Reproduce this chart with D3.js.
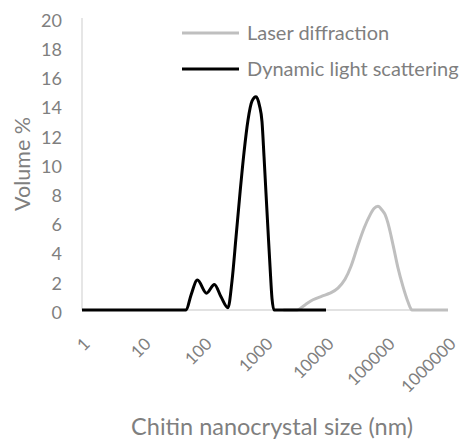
<!DOCTYPE html>
<html>
<head>
<meta charset="utf-8">
<script src="https://cdn.jsdelivr.net/npm/d3@7"></script>
<style>
  body { margin: 0; background: #fff; }
  text { font-family: "Lato", "Open Sans", sans-serif; fill: #7f7f7f; }
</style>
</head>
<body>
<div id="chart"></div>
<script>
// tick labels
const xTicks = [1, 10, 100, 1000, 10000, 100000, 1000000];
const yTicks = [0, 2, 4, 6, 8, 10, 12, 14, 16, 18, 20];

// Laser diffraction (size nm, volume %)
const ldSize = [2000, 3350, 4530, 6120, 8600, 11600, 15700, 20500, 25700, 33500, 42000, 52600,
                61200, 71100, 82800, 92800, 103800, 116300, 130300, 151000, 183000, 221000, 257000, 1000000];
const ldVol  = [0, 0, 0.35, 0.7, 0.95, 1.15, 1.5, 2.1, 3.0, 4.45, 5.6, 6.5,
                6.95, 7.1, 6.85, 6.55, 5.95, 5.1, 4.15, 2.9, 1.6, 0.55, 0, 0];

// Dynamic light scattering (size nm, volume %)
const dlsSize = [1, 10, 51, 61, 78, 110, 148, 190, 247, 288, 335, 389, 453, 526, 612, 712,
                 812, 893, 964, 1038, 1119, 1208, 1302, 1405, 3000, 10000];
const dlsVol  = [0, 0, 0, 1.0, 2.05, 1.15, 1.75, 0.9, 0.15, 2.0, 5.0, 8.0, 10.8, 13.0, 14.3, 14.6,
                 14.0, 12.9, 10.5, 8.0, 5.5, 3.0, 0.8, 0, 0, 0];

const seriesNames = ["Laser diffraction", "Dynamic light scattering"];
const seriesColors = ["#bfbfbf", "#000000"];

const W = 460, H = 439;
const margin = {top: 18, right: 12, bottom: 129, left: 82};
const width = W - margin.left - margin.right,
      height = H - margin.top - margin.bottom;

const svg = d3.select("#chart")
  .append("svg")
    .attr("width", W)
    .attr("height", H);
const g = svg.append("g")
    .attr("transform", `translate(${margin.left},${margin.top})`);

const x = d3.scaleLog()
  .domain([1, 1000000])
  .range([0, width]);
const y = d3.scaleLinear()
  .domain([0, 20])
  .range([height, 0]);

// axis lines
g.append("line")
  .attr("x1", 0).attr("x2", 0)
  .attr("y1", 0).attr("y2", height)
  .attr("stroke", "#d9d9d9").attr("stroke-width", 1.3);
g.append("line")
  .attr("x1", 0).attr("x2", width)
  .attr("y1", height).attr("y2", height)
  .attr("stroke", "#d9d9d9").attr("stroke-width", 1.3);

// y tick labels
g.append("g")
  .selectAll("text")
  .data(yTicks)
  .join("text")
    .attr("x", -20)
    .attr("y", d => y(d) + 2)
    .attr("dy", "0.38em")
    .attr("text-anchor", "end")
    .style("font-size", "18px")
    .text(d => d);

// x tick labels, rotated
g.append("g")
  .selectAll("text")
  .data(xTicks)
  .join("text")
    .attr("transform", d => `translate(${x(d) + 9},${height + 35})rotate(-45)`)
    .attr("text-anchor", "end")
    .style("font-size", "17px")
    .text(d => d);

// axis titles
svg.append("text")
  .attr("transform", `translate(30,${margin.top + 146})rotate(-90)`)
  .attr("text-anchor", "middle")
  .style("font-size", "21.5px")
  .text("Volume %");
svg.append("text")
  .attr("x", 272)
  .attr("y", 435)
  .attr("text-anchor", "middle")
  .style("font-size", "23.5px")
  .text("Chitin nanocrystal size (nm)");

// lines
const line = d3.line()
  .x(d => x(d[0]))
  .y(d => y(d[1]))
  .curve(d3.curveMonotoneX);

const ldData = ldSize.map((s, i) => [s, ldVol[i]]);
const dlsData = dlsSize.map((s, i) => [s, dlsVol[i]]);

g.append("path")
  .datum(ldData)
  .attr("fill", "none")
  .attr("stroke", seriesColors[0])
  .attr("stroke-width", 3)
  .attr("stroke-linejoin", "round")
  .attr("d", line);
g.append("path")
  .datum(dlsData)
  .attr("fill", "none")
  .attr("stroke", seriesColors[1])
  .attr("stroke-width", 3)
  .attr("stroke-linejoin", "round")
  .attr("d", line);

// legend
const legend = svg.append("g")
  .attr("transform", "translate(182,33)");
const legendItem = legend.selectAll("g")
  .data(seriesNames)
  .join("g")
    .attr("transform", (d, i) => `translate(0,${i * 36})`);
legendItem.append("line")
  .attr("x1", 0).attr("x2", 57)
  .attr("stroke", (d, i) => seriesColors[i])
  .attr("stroke-width", 3);
legendItem.append("text")
  .attr("x", 65)
  .attr("dy", "0.35em")
  .style("font-size", "20px")
  .text(d => d);
</script>
</body>
</html>
